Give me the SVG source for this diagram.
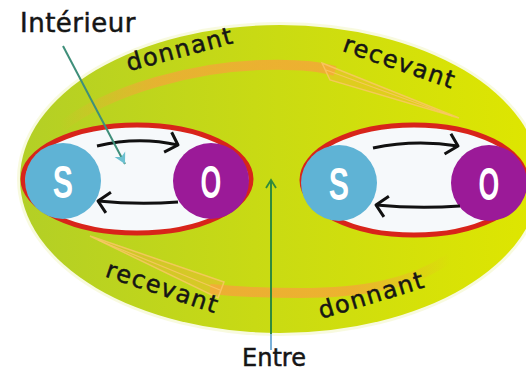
<svg xmlns="http://www.w3.org/2000/svg" width="526" height="372" viewBox="0 0 526 372">
<defs>
<linearGradient id="bg" x1="0" x2="1" y1="0" y2="0">
<stop offset="0" stop-color="#b3cf26"/>
<stop offset="0.45" stop-color="#c8da14"/>
<stop offset="1" stop-color="#dfe600"/>
</linearGradient>
<linearGradient id="bandTop" x1="0" x2="1" y1="0" y2="0">
<stop offset="0" stop-color="#f6a43a" stop-opacity="0"/>
<stop offset="0.35" stop-color="#f6a43a" stop-opacity="0.7"/>
<stop offset="1" stop-color="#f6a43a" stop-opacity="0.8"/>
</linearGradient>
<linearGradient id="bandBot" x1="0" x2="1" y1="0" y2="0">
<stop offset="0" stop-color="#f6a43a" stop-opacity="0.8"/>
<stop offset="0.6" stop-color="#f6a43a" stop-opacity="0.75"/>
<stop offset="1" stop-color="#f6a43a" stop-opacity="0"/>
</linearGradient>
<marker id="blk" viewBox="-14 -14 16 28" refX="0" refY="0" markerWidth="16" markerHeight="28" orient="auto" markerUnits="userSpaceOnUse">
<path d="M-9,-11 L0,0 L-12,10" fill="none" stroke="#111" stroke-width="3" stroke-linejoin="round"/>
</marker>
<marker id="grn" viewBox="-10 -7 12 14" refX="0" refY="0" markerWidth="12" markerHeight="14" orient="auto" markerUnits="userSpaceOnUse">
<path d="M-8,-5 L0,0 L-8,5" fill="none" stroke="#2f8a3c" stroke-width="1.8"/>
</marker>
<marker id="cyan" viewBox="-12 -7 14 14" refX="0" refY="0" markerWidth="14" markerHeight="14" orient="auto" markerUnits="userSpaceOnUse">
<path d="M-11,-6 L0,0 L-11,6 L-8,0 Z" fill="#6cc0d0"/>
</marker>
</defs>
<style>
.lbl{font-family:"DejaVu Sans","Liberation Sans",sans-serif;font-size:24px;fill:#151515;stroke:#151515;stroke-width:0.5;letter-spacing:1.5px}
.let{font-family:"Liberation Sans","DejaVu Sans",sans-serif;font-weight:bold;font-size:46px;fill:#ffffff}
.ring{fill:#f6f9fb;stroke:#d8241a;stroke-width:5}
.sc{fill:#5fb3d5}
.oc{fill:#9b1a98}
.blk{fill:none;stroke:#111;stroke-width:3;marker-end:url(#blk)}
.band{fill:none;stroke-width:10}
.head{fill:#f8b040;fill-opacity:0.35;stroke:#fac868;stroke-width:1.5;stroke-opacity:0.8}
</style>

<g id="milieu">
<ellipse cx="280" cy="179" rx="263" ry="157" fill="#f2f6c0" opacity="0.5"/>
<ellipse cx="280" cy="179" rx="260" ry="154" fill="url(#bg)"/>
</g>

<g id="flux">
<path class="band" stroke="url(#bandTop)" d="M60 128 C110 88 200 66 263 65 C295 64 318 66 335 71"/>
<polygon class="head" points="322,63 459,118 330,80"/>
<path d="M326 70 L452 116" stroke="#fac868" stroke-width="1.2" fill="none" opacity="0.8"/>
<path class="band" stroke="url(#bandBot)" d="M210 289 C240 292 270 293 300 293 C360 293 410 285 450 258"/>
<polygon class="head" points="224,282 90,236 218,298"/>
<path d="M220 290 L98 240" stroke="#fac868" stroke-width="1.2" fill="none" opacity="0.8"/>
</g>

<g id="systeme-gauche">
<ellipse class="ring" cx="137" cy="179" rx="114" ry="54"/>
</g>
<g id="systeme-droit">
<ellipse class="ring" cx="414" cy="180" rx="112" ry="55"/>
</g>

<g id="S1">
<circle class="sc" cx="63" cy="181" r="38"/>
<text class="let" text-anchor="middle" transform="translate(63 198) scale(0.66 1)">S</text>
</g>
<g id="O1">
<circle class="oc" cx="211" cy="181" r="38"/>
<text class="let" text-anchor="middle" transform="translate(211 198) scale(0.58 1)">O</text>
</g>
<g id="S2">
<circle class="sc" cx="339" cy="183" r="38"/>
<text class="let" text-anchor="middle" transform="translate(339 200) scale(0.66 1)">S</text>
</g>
<g id="O2">
<circle class="oc" cx="489" cy="183" r="38"/>
<text class="let" text-anchor="middle" transform="translate(489 200) scale(0.58 1)">O</text>
</g>

<g id="connecteurs">
<path class="blk" d="M97 146 Q138 136 178 145"/>
<path class="blk" d="M178 202 Q138 205 98 201"/>
<path class="blk" d="M373 148 Q415 139 458 146"/>
<path class="blk" d="M460 206 Q418 209 376 205"/>
<path d="M63 46 L125 164" fill="none" stroke="#3f8f7a" stroke-width="2" marker-end="url(#cyan)"/>
<path d="M271 333 L271 350" fill="none" stroke="#7ab0d8" stroke-width="2"/>
<path d="M271 334 L271 180" fill="none" stroke="#2f8a3c" stroke-width="2" marker-end="url(#grn)"/>
</g>

<g id="labels">
<text class="lbl" x="20" y="32" style="font-size:26px;letter-spacing:0.5px">Intérieur</text>
<text class="lbl" text-anchor="middle" transform="translate(182 57) rotate(-15)">donnant</text>
<text class="lbl" text-anchor="middle" transform="translate(397 70) rotate(19)">recevant</text>
<text class="lbl" text-anchor="middle" transform="translate(160 295) rotate(18.5)">recevant</text>
<text class="lbl" text-anchor="middle" transform="translate(374 303) rotate(-17)">donnant</text>
<text class="lbl" x="242" y="366" style="letter-spacing:0">Entre</text>
</g>
</svg>
